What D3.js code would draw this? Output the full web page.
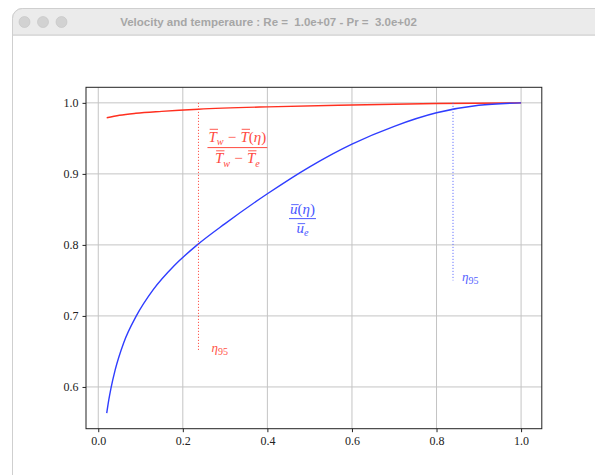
<!DOCTYPE html>
<html>
<head>
<meta charset="utf-8">
<script src="https://cdn.jsdelivr.net/npm/d3@7"></script>
<style>
  body { margin: 0; background: #fff; }
  .serif { font-family: "Liberation Serif", "DejaVu Serif", serif; }
</style>
</head>
<body>
<div id="chart"></div>
<script>
// velocity profile u/ue
var etaU = [0.02, 0.025, 0.03, 0.04, 0.06, 0.09, 0.13, 0.18, 0.234, 0.3, 0.4, 0.5, 0.6, 0.7, 0.8, 0.9, 1.0];
var valU = [0.563, 0.582, 0.598, 0.624, 0.662, 0.700, 0.737, 0.771, 0.800, 0.830, 0.872, 0.910, 0.942, 0.967, 0.986, 0.9966, 1.0];
// temperature profile
var etaT = [0.02, 0.05, 0.089, 0.15, 0.237, 0.4, 0.6, 0.8, 1.0];
var valT = [0.979, 0.9825, 0.9853, 0.988, 0.991, 0.9944, 0.997, 0.999, 1.0];
// eta95 markers
var eta95T = 0.237, eta95U = 0.839;
var xTicks = [0.0, 0.2, 0.4, 0.6, 0.8, 1.0];
var yTicks = [0.6, 0.7, 0.8, 0.9, 1.0];
var title = "Velocity and temperaure : Re =  1.0e+07 - Pr =  3.0e+02";

var W = 595, H = 475;
var svg = d3.select('#chart').append('svg').attr('width', W).attr('height', H);

// window frame
svg.append('rect').attr('x', 12.5).attr('y', 8.5).attr('width', 620).attr('height', 500)
  .attr('rx', 10).attr('fill', '#fff').attr('stroke', '#cfcfcf');
svg.append('path')
  .attr('d', 'M12.5,35 V18.5 a10,10 0 0 1 10,-10 H633 V35 Z')
  .attr('fill', '#ebebeb').attr('stroke', '#cfcfcf');
svg.append('line').attr('x1', 13).attr('x2', 595).attr('y1', 35.5).attr('y2', 35.5).attr('stroke', '#dcdcdc');
[24.5, 43, 61.5].forEach(function(cx){
  svg.append('circle').attr('cx', cx).attr('cy', 22).attr('r', 5.5)
    .attr('fill', '#d2d2d2').attr('stroke', '#c2c2c2').attr('stroke-width', 0.6);
});
svg.append('text').attr('x', 268.5).attr('y', 26)
  .attr('text-anchor', 'middle')
  .style('font-family', '"Liberation Sans", Arial, sans-serif')
  .style('font-weight', 'bold').style('font-size', '11.5px').attr('fill', '#a6a6a6')
  .attr('xml:space', 'preserve')
  .text(title);

// scales
var x = d3.scaleLinear().domain([-0.029, 1.049]).range([86, 541.8]);
var y = d3.scaleLinear().domain([0.5412, 1.0219]).range([428.7, 87.3]);

var g = svg.append('g');

// grid
g.selectAll('.gx').data(xTicks).enter().append('line')
  .attr('x1', d => x(d)).attr('x2', d => x(d)).attr('y1', y.range()[0]).attr('y2', y.range()[1])
  .attr('stroke', '#c4c4c4').attr('stroke-width', 1);
g.selectAll('.gy').data(yTicks).enter().append('line')
  .attr('y1', d => y(d)).attr('y2', d => y(d)).attr('x1', x.range()[0]).attr('x2', x.range()[1])
  .attr('stroke', '#c4c4c4').attr('stroke-width', 1);

// curves
var lineU = d3.line().x((d, i) => x(etaU[i])).y(d => y(d)).curve(d3.curveMonotoneX);
var lineT = d3.line().x((d, i) => x(etaT[i])).y(d => y(d)).curve(d3.curveMonotoneX);
g.append('path').attr('d', lineT(valT)).attr('fill', 'none').attr('stroke', '#ff2f1f').attr('stroke-width', 1.4);
g.append('path').attr('d', lineU(valU)).attr('fill', 'none').attr('stroke', '#2f3dff').attr('stroke-width', 1.4);

// eta95 dotted lines
g.append('line').attr('x1', x(eta95T)).attr('x2', x(eta95T)).attr('y1', y(1.0)).attr('y2', y(0.65))
  .attr('stroke', '#ff3b2f').attr('stroke-width', 1).attr('stroke-dasharray', '1,2');
g.append('line').attr('x1', x(eta95U)).attr('x2', x(eta95U)).attr('y1', y(1.0)).attr('y2', y(0.75))
  .attr('stroke', '#4d5cff').attr('stroke-width', 1).attr('stroke-dasharray', '1,2');

function etaLabel(px, py, color) {
  var t = g.append('text').attr('x', px).attr('y', py).attr('fill', color).attr('class', 'serif')
    .style('font-size', '13px');
  t.append('tspan').style('font-style', 'italic').text('η');
  t.append('tspan').attr('dy', 2.5).style('font-size', '10px').text('95');
}
etaLabel(x(eta95T) + 13, y(0.65) + 1, '#ff5348');
etaLabel(x(eta95U) + 9, y(0.75) + 1, '#5563ff');

// math rows: pieces laid out left to right, overlines drawn as lines
function mathRow(parent, pieces, size, color) {
  var row = parent.append('g').attr('class', 'serif');
  var xp = 0;
  pieces.forEach(function(p){
    var fs = p.sub ? size * 0.68 : size;
    xp += p.pre || 0;
    var t = row.append('text').attr('x', xp).attr('y', p.sub ? size * 0.25 : 0)
      .attr('fill', color).style('font-size', fs + 'px')
      .style('font-style', p.it ? 'italic' : 'normal').text(p.t);
    var w = t.node().getComputedTextLength();
    // lowercase letters get a lower overline
    var oy = p.t === p.t.toLowerCase() ? -size * 0.6 : -size * 0.82;
    if (p.ov) row.append('line').attr('x1', xp + size * 0.08).attr('x2', xp + w + size * 0.08)
      .attr('y1', oy).attr('y2', oy).attr('stroke', color).attr('stroke-width', 0.9);
    xp += w + (p.post || 0);
  });
  return { node: row, width: xp };
}
function frac(cx, barY, size, color, num, den, upNum, downDen) {
  var grp = g.append('g');
  var n = mathRow(grp, num, size, color), d = mathRow(grp, den, size, color);
  var bw = Math.max(n.width, d.width) + 2;
  n.node.attr('transform', 'translate(' + (cx - n.width / 2) + ',' + (barY - upNum) + ')');
  d.node.attr('transform', 'translate(' + (cx - d.width / 2) + ',' + (barY + downDen) + ')');
  grp.append('line').attr('x1', cx - bw / 2).attr('x2', cx + bw / 2).attr('y1', barY).attr('y2', barY)
    .attr('stroke', color).attr('stroke-width', 1);
}
var S = 15, gap = 4.2;
frac(x(0.329), y(0.937), S, '#ff4a3f',
  [{t:'T', it:true, ov:true}, {t:'w', it:true, sub:true}, {t:'−', pre:gap, post:gap},
   {t:'T', it:true, ov:true}, {t:'('}, {t:'η', it:true}, {t:')'}],
  [{t:'T', it:true, ov:true}, {t:'w', it:true, sub:true}, {t:'−', pre:gap, post:gap},
   {t:'T', it:true, ov:true}, {t:'e', it:true, sub:true}], 6, 15.5);
frac(x(0.483), y(0.837), S, '#4a58ff',
  [{t:'u', it:true, ov:true}, {t:'('}, {t:'η', it:true}, {t:')'}],
  [{t:'u', it:true, ov:true}, {t:'e', it:true, sub:true}], 5, 14);

// axes frame
g.append('rect').attr('x', x.range()[0]).attr('y', y.range()[1])
  .attr('width', x.range()[1] - x.range()[0]).attr('height', y.range()[0] - y.range()[1])
  .attr('fill', 'none').attr('stroke', '#222').attr('stroke-width', 1);

var xAxis = g.append('g').attr('transform', 'translate(0,' + y.range()[0] + ')')
  .call(d3.axisBottom(x).tickValues(xTicks).tickFormat(d3.format('.1f')).tickSize(3.5).tickPadding(4));
var yAxis = g.append('g').attr('transform', 'translate(' + x.range()[0] + ',0)')
  .call(d3.axisLeft(y).tickValues(yTicks).tickFormat(d3.format('.1f')).tickSize(3.5).tickPadding(4));
[xAxis, yAxis].forEach(function(a){
  a.select('.domain').remove();
  a.selectAll('line').attr('stroke', '#222');
  a.selectAll('text').attr('fill', '#222').attr('class', 'serif').style('font-size', '12px');
});
</script>
</body>
</html>
